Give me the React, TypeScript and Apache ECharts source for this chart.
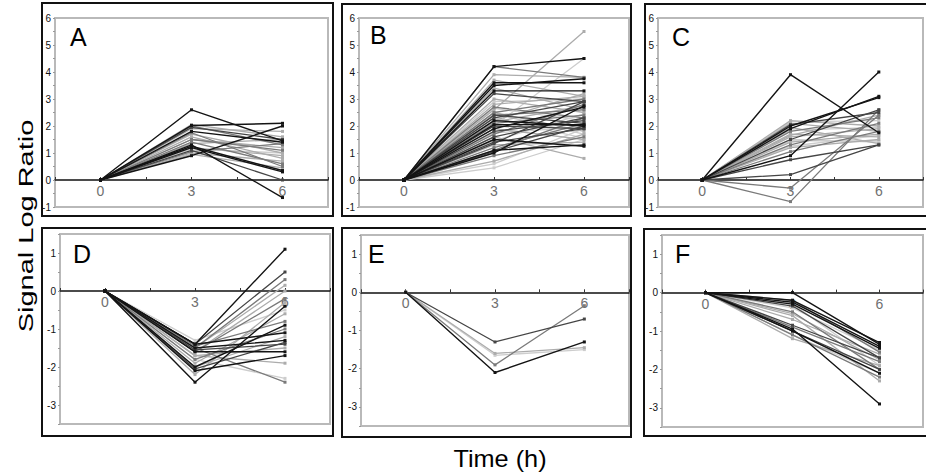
import React, { useEffect, useRef } from "react";
import * as echarts from "echarts";

// ---- data ----
const timePoints = [0, 3, 6];
const startValue = 0;
const xTickLabels = ["0", "3", "6"];
const panelLetters = ["A", "B", "C", "D", "E", "F"];
const yTitle = "Signal Log Ratio";
const xTitle = "Time (h)";

// Panel A
const aAt3 = [2.6, 2.02, 0.9, 1.3, 1.8, 1.25, 1.2, 1.1, 1.95, 2.0, 1.9, 1.7, 1.6, 1.5, 1.4, 1.35, 1.2, 1.0, 1.75, 2.05, 1.05, 0.95, 1.5, 1.15];
const aAt6 = [1.45, 2.1, 2.0, -0.65, 1.4, 0.35, 0.3, 0.0, 1.5, 1.3, 1.8, 1.0, 0.8, 1.2, 0.6, 1.5, 0.9, 0.7, 0.5, 1.6, 1.35, 0.45, 1.1, 1.0];
const aShade = [0, 0, 0, 0, 0, 0, 0, 1, 1, 2, 3, 3, 3, 3, 2, 3, 3, 3, 2, 3, 2, 3, 2, 4];

// Panel B
const bAt3 = [4.2, 4.2, 3.6, 3.5, 3.3, 3.2, 2.6, 2.0, 3.9, 3.7, 2.7, 2.3, 2.2, 2.05, 1.9, 1.0, 1.1, 1.5, 1.8, 1.4, 2.5, 2.4, 1.6, 0.45, 0.7, 2.8, 2.1, 1.2, 1.3, 2.5, 2.0, 1.7, 3.0, 1.6, 2.2, 0.9, 1.9, 2.4, 3.4, 1.1, 2.3, 1.35, 2.65, 1.75, 2.15, 0.6, 1.45, 2.9, 1.05, 2.45];
const bAt6 = [4.5, 3.8, 3.6, 3.75, 3.3, 2.9, 5.5, 4.5, 3.8, 3.1, 2.3, 2.9, 2.0, 2.05, 2.7, 2.75, 1.3, 1.25, 2.2, 1.9, 3.0, 2.6, 0.8, 1.5, 1.7, 3.1, 2.4, 2.1, 1.4, 1.8, 1.9, 2.8, 2.5, 2.3, 3.2, 1.6, 1.5, 2.1, 2.6, 2.3, 1.55, 2.9, 2.2, 1.95, 2.75, 1.9, 2.45, 3.0, 2.0, 1.7];
const bShade = [0, 2, 0, 0, 0, 1, 3, 4, 3, 3, 2, 1, 0, 0, 0, 0, 0, 0, 1, 1, 2, 2, 3, 4, 3, 3, 2, 2, 3, 3, 1, 2, 3, 1, 3, 2, 3, 1, 3, 2, 4, 1, 4, 4, 3, 4, 4, 4, 1, 4];

// Panel C
const cAt3 = [3.9, 0.9, 1.9, 2.0, 0.75, -0.8, -0.3, 0.2, 1.5, 2.2, 2.1, 1.8, 1.7, 1.6, 1.5, 1.4, 1.3, 1.2, 2.15, 1.95, 1.85, 1.65, 1.25, 1.05, 2.05, 1.45];
const cAt6 = [1.75, 4.0, 3.1, 3.05, 1.3, 2.6, 2.4, 1.3, 2.6, 2.0, 1.8, 2.3, 1.6, 1.9, 1.4, 1.7, 2.1, 1.5, 2.2, 1.35, 1.95, 2.4, 1.65, 1.8, 2.5, 1.45];
const cShade = [0, 0, 0, 0, 1, 2, 2, 1, 1, 3, 3, 2, 3, 3, 4, 3, 2, 3, 4, 3, 4, 3, 4, 2, 1, 4];

// Panel D
const dAt3 = [-1.4, -1.4, -1.5, -1.5, -1.6, -1.6, -2.4, -2.0, -1.4, -1.5, -1.6, -2.1, -1.5, -1.7, -1.8, -1.9, -1.45, -2.2, -2.05, -1.7, -1.8, -1.3, -1.55, -2.0];
const dAt6 = [1.1, 0.5, 0.3, 0.15, 0.0, -0.2, -0.4, -0.9, -1.1, -1.3, -1.6, -1.7, -2.4, -1.9, -2.3, -0.6, -0.8, -0.3, -1.35, -1.5, -1.0, -0.5, -1.4, -1.2];
const dShade = [0, 1, 2, 3, 3, 2, 0, 0, 0, 0, 0, 0, 2, 3, 4, 3, 2, 3, 1, 3, 2, 4, 1, 3];

// Panel E
const eAt3 = [-1.3, -1.9, -1.6, -1.65, -2.1];
const eAt6 = [-0.7, -0.35, -1.45, -1.5, -1.3];
const eShade = [1, 2, 3, 4, 0];

// Panel F
const fAt3 = [0, -0.2, -0.25, -0.3, -0.95, -1.0, -0.85, -0.35, -0.5, -0.6, -1.2, -1.1, -0.7, -0.4, -0.9, -1.0, -0.3, -0.55, -0.2, -1.1];
const fAt6 = [-1.35, -1.3, -1.4, -1.45, -2.9, -2.1, -1.7, -1.7, -2.0, -2.3, -1.9, -2.2, -1.6, -1.5, -1.8, -2.0, -1.9, -1.75, -1.55, -2.1];
const fShade = [0, 0, 0, 0, 0, 0, 1, 1, 2, 3, 3, 2, 3, 4, 2, 1, 4, 3, 2, 4];

// ---- styling / layout ----
const palette = ["#141414", "#454545", "#7a7a7a", "#acacac", "#cdcdcd"];
const FONT = "'Liberation Sans', Arial, sans-serif";

const panelDefs = [
  { at3: aAt3, at6: aAt6, shade: aShade, range: [-1, 6], grid: { left: 55, top: 18, width: 273, height: 189 }, frame: [42, 3, 291, 213], letter: [70, 37] },
  { at3: bAt3, at6: bAt6, shade: bShade, range: [-1, 6], grid: { left: 359, top: 18, width: 270, height: 189 }, frame: [342, 4, 289, 212], letter: [370, 35] },
  { at3: cAt3, at6: cAt6, shade: cShade, range: [-1, 6], grid: { left: 658, top: 18, width: 274, height: 189 }, frame: [645, 4, 300, 212], letter: [672, 37] },
  { at3: dAt3, at6: dAt6, shade: dShade, range: [-3.5, 1.5], grid: { left: 60, top: 234, width: 270, height: 190 }, frame: [42, 228, 291, 208], letter: [73, 254] },
  { at3: eAt3, at6: eAt6, shade: eShade, range: [-3.5, 1.5], grid: { left: 361, top: 235, width: 268, height: 191 }, frame: [342, 228, 289, 209], letter: [368, 254] },
  { at3: fAt3, at6: fAt6, shade: fShade, range: [-3.5, 1.5], grid: { left: 662, top: 235, width: 272, height: 192 }, frame: [644, 229, 300, 207], letter: [675, 254] },
];

export default function App() {
  const ref = useRef<HTMLDivElement>(null);

  useEffect(() => {
    if (!ref.current) return;
    const chart = echarts.init(ref.current, undefined, { renderer: "svg" });

    const grids: any[] = [];
    const xAxes: any[] = [];
    const yAxes: any[] = [];
    const series: any[] = [];
    const graphics: any[] = [];

    panelDefs.forEach((p, i) => {
      const [ymin, ymax] = p.range;
      // move the x axis (line, ticks, labels) up to the y = 0 level
      const zeroOffset = -((0 - ymin) / (ymax - ymin)) * p.grid.height;
      grids.push({
        ...p.grid,
        show: true,
        borderColor: "#b9b9b9",
        borderWidth: 2,
        backgroundColor: "#ffffff",
        containLabel: false,
      });
      xAxes.push({
        type: "value",
        gridIndex: i,
        position: "bottom",
        offset: zeroOffset,
        min: -1.5,
        max: 7.5,
        interval: 1.5,
        axisLine: { show: true, onZero: false, lineStyle: { color: "#111", width: 1.5 } },
        axisTick: { show: true, inside: true, length: 3, lineStyle: { color: "#333" } },
        axisLabel: {
          fontSize: 14,
          color: "#707070",
          fontFamily: FONT,
          margin: 4,
          formatter: (v: number) => (xTickLabels.includes(String(v)) ? String(v) : ""),
        },
        splitLine: { show: false },
      });
      yAxes.push({
        type: "value",
        gridIndex: i,
        position: "left",
        min: ymin,
        max: ymax,
        interval: 0.5,
        axisLine: { show: false, onZero: false },
        axisTick: { show: true, length: 2, lineStyle: { color: "#999" } },
        axisLabel: {
          fontSize: 10,
          color: "#111",
          fontFamily: FONT,
          margin: 4,
          formatter: (v: number) => (Number.isInteger(v) ? String(v) : ""),
        },
        splitLine: { show: false },
      });

      const order = p.at3.map((_, j) => j).sort((a, b) => p.shade[b] - p.shade[a]);
      order.forEach((j, k) => {
        const vals = [startValue, p.at3[j], p.at6[j]];
        const col = palette[p.shade[j]];
        series.push({
          type: "line",
          xAxisIndex: i,
          yAxisIndex: i,
          data: timePoints.map((t, m) => [t, vals[m]]),
          symbol: "rect",
          symbolSize: 3,
          showSymbol: true,
          lineStyle: { color: col, width: p.shade[j] === 0 ? 1.4 : 1.3 },
          itemStyle: { color: col },
          silent: true,
          z: 2 + k * 0.001,
        });
      });

      const [fx, fy, fw, fh] = p.frame;
      graphics.push({
        type: "rect",
        shape: { x: fx, y: fy, width: fw, height: fh },
        style: { fill: "none", stroke: "#111", lineWidth: 2 },
        z: 100,
        silent: true,
      });
      graphics.push({
        type: "text",
        x: p.letter[0],
        y: p.letter[1],
        style: {
          text: panelLetters[i],
          fontSize: 25,
          fontFamily: FONT,
          fill: "#000",
          verticalAlign: "middle",
          align: "left",
        },
        z: 100,
        silent: true,
      });
    });

    graphics.push({
      type: "text",
      x: 26,
      y: 226,
      rotation: Math.PI / 2,
      scaleX: 1.38,
      style: {
        text: yTitle,
        fontSize: 21,
        fontFamily: FONT,
        fill: "#000",
        align: "center",
        verticalAlign: "middle",
      },
      silent: true,
    });
    graphics.push({
      type: "text",
      x: 500,
      y: 459,
      scaleX: 1.1,
      style: {
        text: xTitle,
        fontSize: 23,
        fontFamily: FONT,
        fill: "#000",
        align: "center",
        verticalAlign: "middle",
      },
      silent: true,
    });

    chart.setOption({
      animation: false,
      backgroundColor: "#ffffff",
      grid: grids,
      xAxis: xAxes,
      yAxis: yAxes,
      series,
      graphic: graphics,
    });

    return () => chart.dispose();
  }, []);

  return (
    <div
      ref={ref}
      style={{ position: "fixed", left: 0, top: 0, width: 926, height: 474 }}
    />
  );
}
